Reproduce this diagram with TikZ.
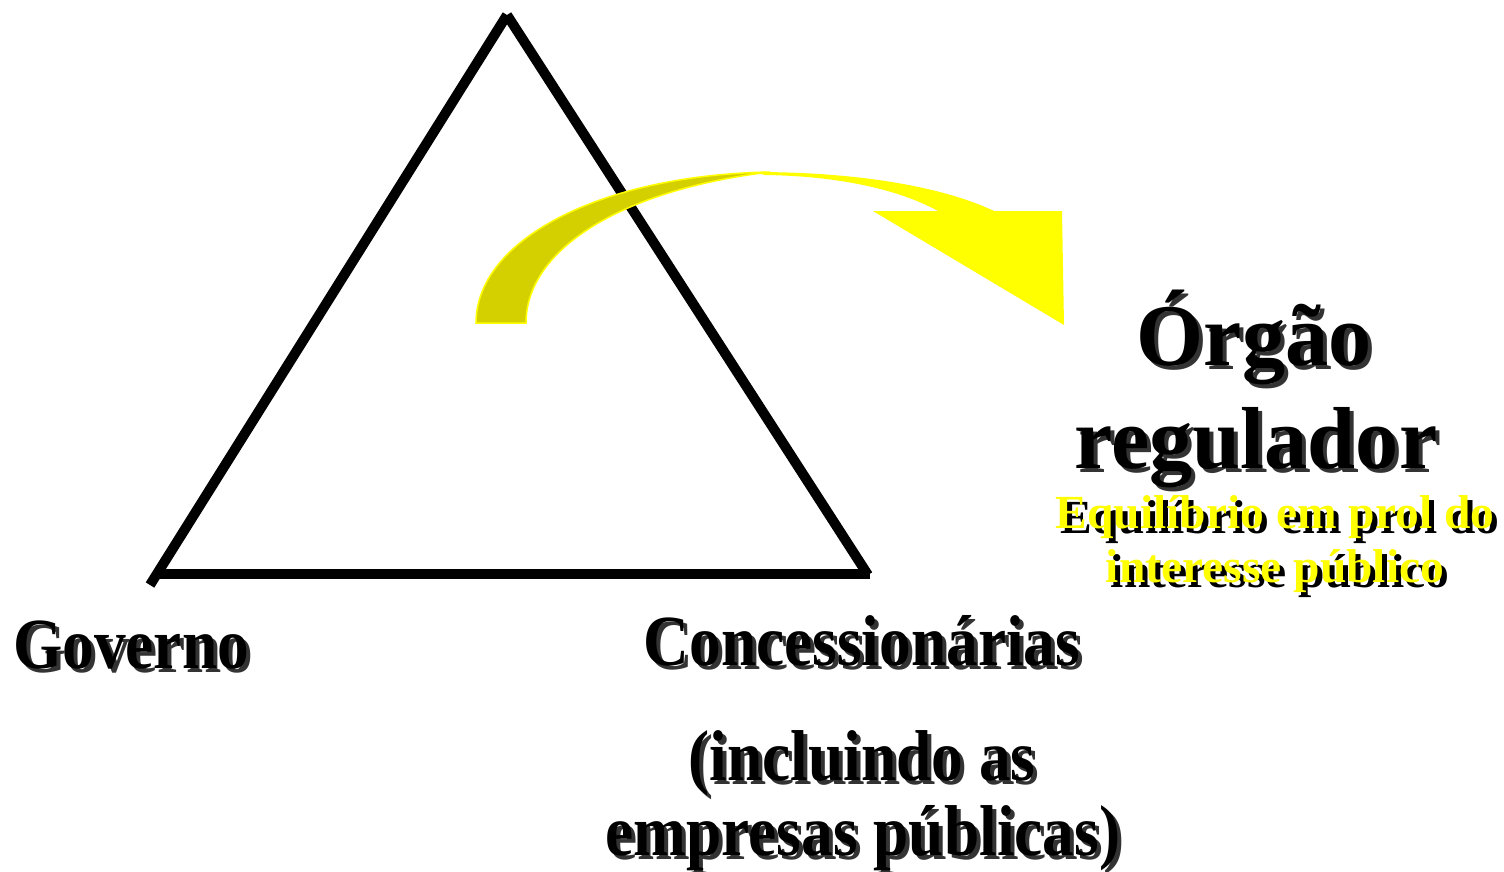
\documentclass[tikz,border=0pt]{standalone}
\usepackage{fontspec}
\setmainfont{Liberation Serif}
\usepackage{tikz}
\definecolor{hiyellow}{RGB}{255, 255, 0}
\definecolor{olive}{RGB}{212, 208, 0}
\tikzset{
  side/.style={line width=10pt},
  lbl/.style={anchor=base, inner sep=0pt},
  big/.style={lbl, xscale=0.98, font=\fontsize{88}{100}\selectfont\bfseries},
  mid/.style={lbl, xscale=0.88, font=\fontsize{72}{80}\selectfont\bfseries},
  small/.style={lbl, font=\fontsize{47.5}{52}\selectfont\bfseries},
  shd/.style={black!80},
}
\begin{document}
\begin{tikzpicture}[x=1pt, y=-1pt]
\useasboundingbox (0,0) rectangle (1504,871);

% Triangle corners
\coordinate (top) at (507,15);
\coordinate (left) at (150,585);
\coordinate (right) at (868,575);
\coordinate (baseL) at (155,574);
\coordinate (baseR) at (870,574);

\draw[side] (left) -- (top);
\draw[side] (top) -- (right);
\draw[side] (baseL) -- (baseR);

% Curved arrow, front part and head
\fill[hiyellow] (755,172) .. controls (870,172) and (950,190) .. (994,211)
  -- (1062,211) -- (1064,325) -- (873,211) -- (938,211)
  .. controls (900,190) and (840,176) .. (765,175) -- cycle;
% Curved arrow, back part
\filldraw[fill=olive, draw=hiyellow, line width=1.5pt] (476,323)
  .. controls (476,240) and (600,175) .. (770,172)
  .. controls (620,190) and (526,250) .. (526,323) -- cycle;

% Regulator
\node[big, shd] (orgao-sh) at (1258,369) {Órgão};
\node[big] (orgao) at (1254,365) {Órgão};
\node[big, shd] (regul-sh) at (1260,472) {regulador};
\node[big] (regul) at (1256,468) {regulador};
\node[small, black] (equil-sh) at (1280,533) {Equilíbrio em prol do};
\node[small, hiyellow] (equil) at (1275,528) {Equilíbrio em prol do};
\node[small, black] (inter-sh) at (1280,587) {interesse público};
\node[small, hiyellow] (inter) at (1275,582) {interesse público};

% Corners of the triangle
\node[mid, shd] (gov-sh) at (135,672) {Governo};
\node[mid] (gov) at (131,668) {Governo};
\node[mid, shd] (conc-sh) at (866,669) {Concessionárias};
\node[mid] (conc) at (862,665) {Concessionárias};
\node[mid, shd] (incl-sh) at (866,784) {(incluindo as};
\node[mid] (incl) at (862,780) {(incluindo as};
\node[mid, shd] (empr-sh) at (867,859) {empresas públicas)};
\node[mid] (empr) at (863,855) {empresas públicas)};
\end{tikzpicture}
\end{document}
